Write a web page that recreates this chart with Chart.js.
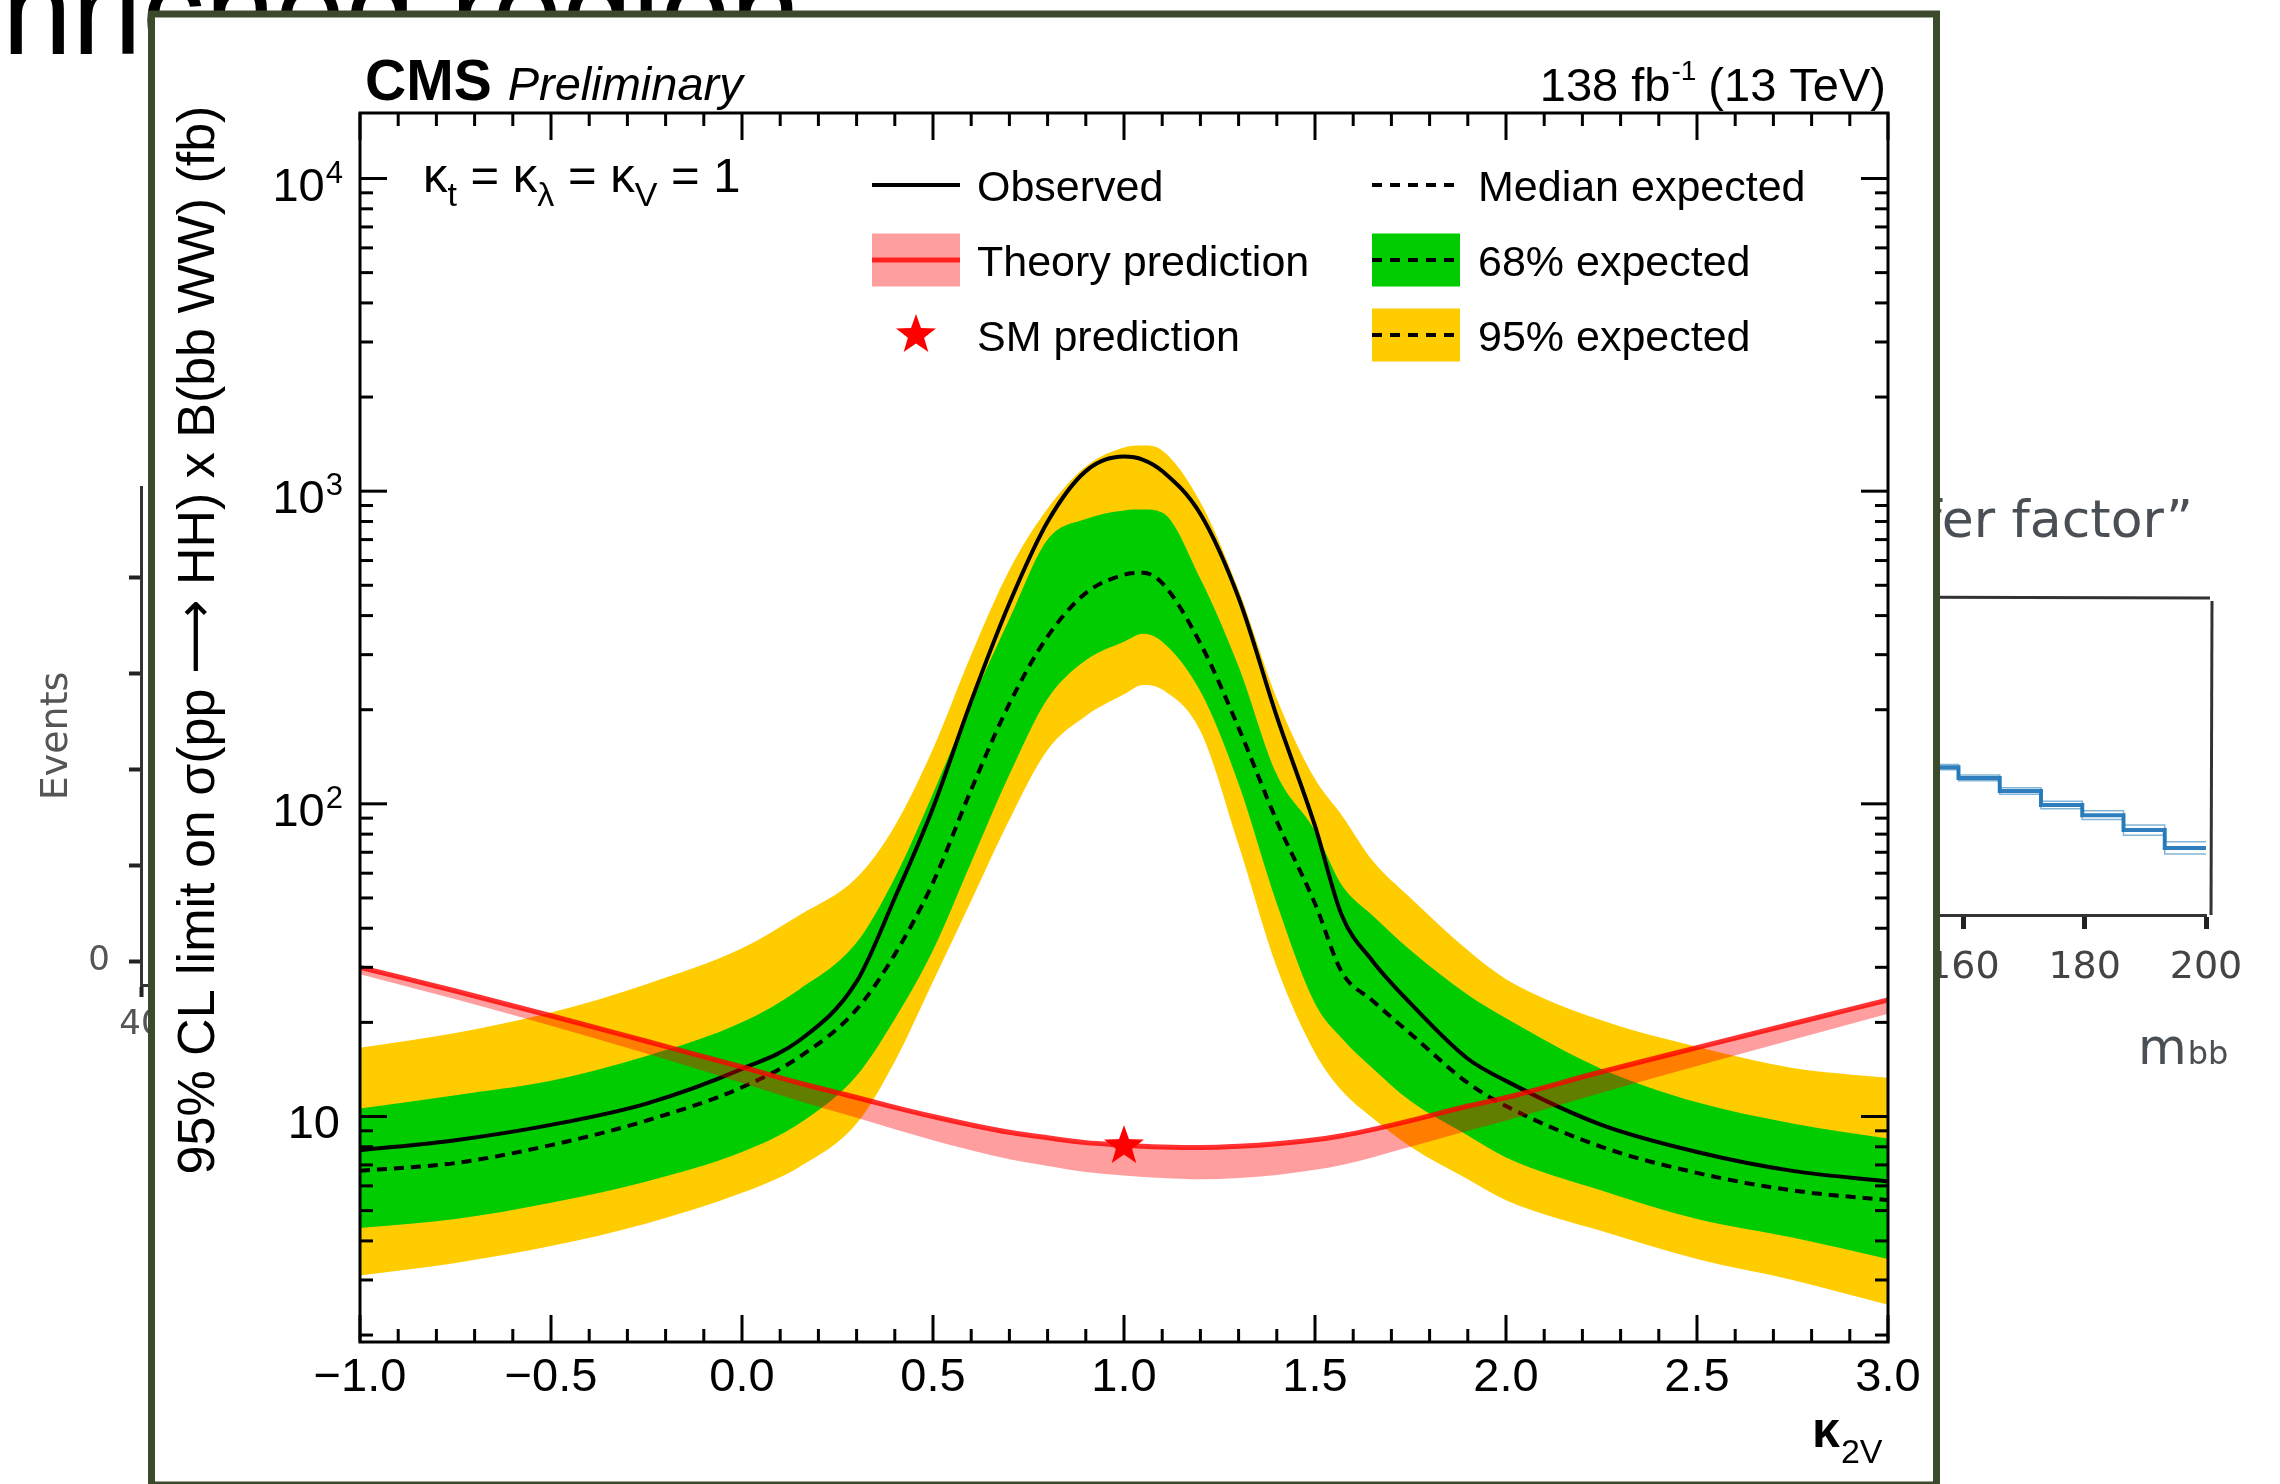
<!DOCTYPE html>
<html>
<head>
<meta charset="utf-8">
<script src="https://cdn.jsdelivr.net/npm/chart.js@4.4.1/dist/chart.umd.min.js"></script>
<style>
  body { margin: 0; background: #fff; }
  #page { position: relative; width: 2280px; height: 1484px; overflow: hidden; background: #fff; }
  #page canvas { position: absolute; left: 0; top: 0; }
</style>
</head>
<body>
<div id="page">
  <canvas id="eventsCanvas" width="2280" height="1484"></canvas>
  <canvas id="mbbCanvas" width="2280" height="1484"></canvas>
  <canvas id="limitCanvas" width="2280" height="1484"></canvas>
</div>
<script>
// kappa_2V scan points and the limits (fb) at each of them
let kappa2V   = [-1.0, -0.75, -0.5, -0.25, 0.0, 0.15, 0.3, 0.4, 0.5, 0.6, 0.7, 0.8, 0.9, 1.0, 1.05, 1.1, 1.2, 1.3, 1.4, 1.5, 1.57, 1.65, 1.75, 1.9, 2.0, 2.25, 2.5, 2.75, 3.0];
let observed  = [7.8, 8.4, 9.4, 11.0, 14.2, 17.5, 27, 50, 97, 213, 438, 798, 1159, 1290, 1260, 1160, 845, 456, 190, 85, 44, 31.5, 23, 15.3, 13.0, 9.4, 7.7, 6.7, 6.2];
let expMedian = [6.7, 7.1, 8.1, 9.7, 12.4, 15.5, 22, 33, 56, 111, 209, 343, 472, 540, 548, 508, 326, 175, 88, 48, 29, 23.5, 18.4, 12.8, 10.8, 8.0, 6.6, 5.8, 5.4];
let exp68Hi   = [10.6, 11.7, 13.0, 15.6, 20.0, 25.5, 36, 58, 108, 210, 390, 700, 815, 868, 873, 855, 525, 275, 124, 82, 55, 44, 34, 24.5, 20.6, 14.2, 11.1, 9.5, 8.5];
let exp68Lo   = [4.4, 4.7, 5.3, 6.2, 7.7, 9.5, 13.5, 20.5, 34, 65, 124, 217, 288, 330, 350, 330, 229, 116, 48, 23, 17.8, 14.3, 11.2, 8.7, 7.4, 5.8, 4.7, 4.1, 3.5];
let exp95Hi   = [16.6, 18.5, 21.5, 26.5, 34.5, 44, 58, 85, 150, 300, 560, 880, 1200, 1380, 1400, 1350, 922, 483, 217, 120, 92, 66, 50, 34, 27.5, 20.3, 16.7, 14.3, 13.3];
let exp95Lo   = [3.1, 3.4, 3.85, 4.55, 5.7, 6.9, 9.5, 15, 27, 49, 89, 149, 191, 224, 240, 232, 171, 74, 30, 16, 12.1, 9.9, 8.0, 6.3, 5.4, 4.3, 3.5, 3.0, 2.5];
let theory    = [30, 25.2, 21.0, 17.4, 14.4, 12.8, 11.5, 10.7, 10.0, 9.4, 8.9, 8.55, 8.25, 8.1, 8.03, 7.99, 7.96, 8.03, 8.18, 8.42, 8.68, 9.08, 9.7, 10.8, 11.5, 13.9, 16.6, 19.8, 23.6];
let theoryLo  = [28.5, 23.7, 19.5, 15.9, 12.8, 11.2, 9.9, 9.1, 8.4, 7.8, 7.3, 6.95, 6.65, 6.48, 6.41, 6.36, 6.3, 6.36, 6.5, 6.75, 7.0, 7.4, 8.0, 9.0, 9.7, 11.9, 14.5, 17.6, 21.3];
let smKappa   = [1.0];
let smXsec    = [8.1];

// axis tick labels
let xTickLabels = ['\u22121.0', '\u22120.5', '0.0', '0.5', '1.0', '1.5', '2.0', '2.5', '3.0'];
let yDecades = [1, 2, 3, 4];

// slide background: m_bb fragment (step histogram) and the Events axis
let mbbBinLow   = [152.4, 159.2, 166.0, 172.8, 179.6, 186.4, 193.2, 200.0];
let mbbRatio    = [46.5, 43.1, 39.0, 34.6, 31.4, 26.7, 21.1, 21.1];
let mbbRatioUp  = [47.3, 44.0, 40.0, 35.8, 32.8, 28.3, 23.0, 23.0];
let mbbRatioDn  = [45.7, 42.2, 38.0, 33.4, 30.0, 25.1, 19.2, 19.2];
let eventsTicks = [0, 1, 2, 3, 4];

let HELV = '"Liberation Sans", Arial, Helvetica, sans-serif';
let HAND = '"DejaVu Sans", sans-serif';

let toPoints = function (xs, ys) {
    return xs.map(function (x, i) { return { x: x, y: ys[i] }; });
};

function starPath(g, cx, cy, rOut, rIn) {
    g.beginPath();
    for (let i = 0; i < 10; i++) {
        let r = i % 2 === 0 ? rOut : rIn;
        let a = -Math.PI / 2 + i * Math.PI / 5;
        let px = cx + r * Math.cos(a), py = cy + r * Math.sin(a);
        if (i === 0) g.moveTo(px, py); else g.lineTo(px, py);
    }
    g.closePath();
}

let starImage = (function () {
    let c = document.createElement('canvas');
    c.width = 46; c.height = 46;
    let g = c.getContext('2d');
    g.fillStyle = '#ff0000';
    starPath(g, 23, 24, 21, 8.5);
    g.fill();
    return c;
})();

let put = function (ctx, text, x, y, font, align, color) {
    ctx.font = font;
    ctx.textAlign = align || 'left';
    ctx.textBaseline = 'alphabetic';
    ctx.fillStyle = color || '#000';
    ctx.fillText(text, x, y);
    return ctx.measureText(text).width;
};

let textWidth = function (ctx, text, font) {
    ctx.font = font;
    return ctx.measureText(text).width;
};

let seg = function (ctx, x1, y1, x2, y2) {
    ctx.beginPath();
    ctx.moveTo(x1, y1);
    ctx.lineTo(x2, y2);
    ctx.stroke();
};

// ---------- slide layer: title text and the Events axis ----------
let slidePlugin = {
    id: 'slideText',
    beforeDraw: function (chart) {
        let ctx = chart.ctx;
        ctx.save();
        put(ctx, 'nriched region', 2, 54, '126px ' + HELV, 'left', '#000');
        ctx.restore();
    }
};

new Chart(document.getElementById('eventsCanvas').getContext('2d'), {
    type: 'line',
    data: { datasets: [] },
    options: {
        responsive: false,
        animation: false,
        devicePixelRatio: 1,
        layout: { padding: { left: 22, top: 487, right: 1280, bottom: 439 } },
        scales: {
            x: {
                type: 'linear', min: 40, max: 200,
                afterFit: function (s) { s.height = 60; },
                ticks: { stepSize: 20, color: '#555', padding: 8, font: { size: 34, family: HAND } },
                grid: { drawOnChartArea: false, tickLength: 12, tickWidth: 4, color: '#222' },
                border: { color: '#333', width: 3 }
            },
            y: {
                type: 'linear', min: -0.25, max: 4.95,
                afterFit: function (s) { s.width = 119; },
                afterBuildTicks: function (s) { s.ticks = eventsTicks.map(function (v) { return { value: v }; }); },
                ticks: {
                    color: '#555', padding: 19, font: { size: 34, family: HAND },
                    callback: function (v) { return v === 0 ? '0' : ''; }
                },
                grid: { drawOnChartArea: false, tickLength: 12, tickWidth: 4, color: '#222' },
                border: { color: '#333', width: 3 },
                title: { display: true, text: 'Events', color: '#555', padding: { top: 12, bottom: 0 }, font: { size: 38, family: HAND } }
            }
        },
        plugins: { legend: { display: false }, tooltip: { enabled: false } }
    },
    plugins: [slidePlugin]
});

// ---------- slide layer: m_bb fragment ----------
let mbbFramePlugin = {
    id: 'mbbFrame',
    afterDraw: function (chart) {
        let ctx = chart.ctx, a = chart.chartArea;
        ctx.save();
        ctx.strokeStyle = '#333';
        ctx.lineWidth = 3;
        seg(ctx, a.left, a.top, a.right + 4, a.top + 1);
        seg(ctx, a.right + 6, a.top + 4, a.right + 5, a.bottom);
        put(ctx, '\u201ctransfer factor\u201d', 2193, 537, '52px ' + HAND, 'right', '#4a4f55');
        let w = put(ctx, 'm', 2138, 1064, '50px ' + HAND, 'left', '#4a4f55');
        put(ctx, 'bb', 2138 + w + 1, 1064, '32px ' + HAND, 'left', '#4a4f55');
        ctx.restore();
    }
};

new Chart(document.getElementById('mbbCanvas').getContext('2d'), {
    type: 'line',
    data: {
        datasets: [
            { data: toPoints(mbbBinLow, mbbRatioUp), stepped: true, borderColor: 'rgba(31,119,180,0.55)', borderWidth: 1.5, pointRadius: 0 },
            { data: toPoints(mbbBinLow, mbbRatioDn), stepped: true, borderColor: 'rgba(31,119,180,0.55)', borderWidth: 1.5, pointRadius: 0 },
            { data: toPoints(mbbBinLow, mbbRatio), stepped: true, borderColor: '#2f7fbf', borderWidth: 4, pointRadius: 0 }
        ]
    },
    options: {
        responsive: false,
        animation: false,
        devicePixelRatio: 1,
        layout: { padding: { left: 1842, top: 597, right: 74, bottom: 489 } },
        scales: {
            x: {
                type: 'linear', min: 140, max: 200,
                afterFit: function (s) { s.height = 80; },
                ticks: { stepSize: 20, color: '#444', padding: 16, font: { size: 38, family: HAND } },
                grid: { drawOnChartArea: false, tickLength: 14, tickWidth: 5, color: '#222' },
                border: { color: '#333', width: 3 }
            },
            y: { type: 'linear', min: 0, max: 100, display: false }
        },
        plugins: { legend: { display: false }, tooltip: { enabled: false } }
    },
    plugins: [mbbFramePlugin]
});

// ---------- the limit plot ----------
let pageFramePlugin = {
    id: 'pageFrame',
    beforeDraw: function (chart) {
        let ctx = chart.ctx;
        ctx.save();
        ctx.fillStyle = '#fff';
        ctx.fillRect(151.5, 14, 1785, 1471);
        ctx.strokeStyle = '#3c4a2c';
        ctx.lineWidth = 7;
        ctx.strokeRect(151.5, 14, 1785, 1471);
        ctx.restore();
    }
};

let rootAxesPlugin = {
    id: 'rootAxes',
    afterDraw: function (chart) {
        let ctx = chart.ctx, a = chart.chartArea;
        let xs = chart.scales.x, ys = chart.scales.y;
        ctx.save();
        ctx.strokeStyle = '#000';
        ctx.lineWidth = 3;
        ctx.lineCap = 'butt';

        // x ticks on bottom and top, pointing inward
        for (let i = -10; i <= 30; i++) {
            let px = xs.getPixelForValue(i / 10);
            let len = i % 5 === 0 ? 27 : 13;
            seg(ctx, px, a.bottom, px, a.bottom - len);
            seg(ctx, px, a.top, px, a.top + len);
        }
        // y ticks (log) on left and right
        for (let e = 0; e <= 4; e++) {
            for (let m = 1; m <= 9; m++) {
                let v = m * Math.pow(10, e);
                if (v < ys.min || v > ys.max) continue;
                let py = ys.getPixelForValue(v);
                let len = m === 1 ? 27 : 13;
                seg(ctx, a.left, py, a.left + len, py);
                seg(ctx, a.right, py, a.right - len, py);
            }
        }
        ctx.strokeRect(a.left, a.top, a.right - a.left, a.bottom - a.top);

        // tick labels
        xTickLabels.forEach(function (t, i) {
            put(ctx, t, xs.getPixelForValue(-1 + 0.5 * i), 1391, '47px ' + HELV, 'center');
        });
        yDecades.forEach(function (n) {
            let py = ys.getPixelForValue(Math.pow(10, n));
            if (n === 1) {
                put(ctx, '10', 340, py + 22, '47px ' + HELV, 'right');
            } else {
                let ws = textWidth(ctx, String(n), '31px ' + HELV);
                put(ctx, String(n), 343, py + 4, '31px ' + HELV, 'right');
                put(ctx, '10', 343 - ws - 1, py + 22, '47px ' + HELV, 'right');
            }
        });

        // y title, with a wider arrow glyph
        let tf = '52px ' + HELV, af = '52px ' + HAND;
        let ta = '95% CL limit on \u03c3(pp ', tb = '\u27f6', tc = ' HH) x B(bb WW) (fb)';
        let wa = textWidth(ctx, ta, tf), wb = textWidth(ctx, tb, af), wt = textWidth(ctx, tc, tf);
        ctx.save();
        ctx.translate(214, 640);
        ctx.rotate(-Math.PI / 2);
        let tx = -(wa + wb + wt) / 2;
        put(ctx, ta, tx, 0, tf, 'left');
        put(ctx, tb, tx + wa, -2, af, 'left');
        put(ctx, tc, tx + wa + wb, 0, tf, 'left');
        ctx.restore();

        // x title
        let wk = put(ctx, '\u03ba', 1812, 1447, 'bold 50px ' + HELV, 'left');
        put(ctx, '2V', 1812 + wk + 1, 1463, '34px ' + HELV, 'left');

        // CMS label and luminosity
        let wc = put(ctx, 'CMS', 365, 100, 'bold 57px ' + HELV, 'left');
        put(ctx, 'Preliminary', 365 + wc + 16, 100, 'italic 47px ' + HELV, 'left');
        let w1 = textWidth(ctx, '138 fb', '47px ' + HELV);
        let w3 = textWidth(ctx, ' (13 TeV)', '47px ' + HELV);
        let w2 = textWidth(ctx, '-1', '28px ' + HELV);
        let x0 = 1886 - w1 - w2 - w3;
        put(ctx, '138 fb', x0, 101, '47px ' + HELV, 'left');
        put(ctx, '-1', x0 + w1 + 1, 80, '28px ' + HELV, 'left');
        put(ctx, ' (13 TeV)', x0 + w1 + w2, 101, '47px ' + HELV, 'left');

        // coupling values
        let parts = [['\u03ba', 0], ['t', 1], [' = \u03ba', 0], ['\u03bb', 1], [' = \u03ba', 0], ['V', 1], [' = 1', 0]];
        let cx = 423;
        parts.forEach(function (p) {
            let sub = p[1] === 1;
            cx += put(ctx, p[0], cx, sub ? 206 : 192, (sub ? '34px ' : '49px ') + HELV, 'left');
        });

        // legend
        let rows = [185, 260, 335];
        let c1 = 872, c2 = 1372, bw = 88, bh = 53;
        ctx.lineWidth = 4;
        ctx.strokeStyle = '#000';
        seg(ctx, c1, rows[0], c1 + bw, rows[0]);
        ctx.fillStyle = 'rgba(255,0,0,0.38)';
        ctx.fillRect(c1, rows[1] - bh / 2, bw, bh);
        ctx.strokeStyle = 'rgba(255,0,0,0.8)';
        ctx.lineWidth = 5;
        seg(ctx, c1, rows[1], c1 + bw, rows[1]);
        ctx.drawImage(starImage, c1 + bw / 2 - 23, rows[2] - 24);
        ctx.fillStyle = '#00cc00';
        ctx.fillRect(c2, rows[1] - bh / 2, bw, bh);
        ctx.fillStyle = '#ffcc00';
        ctx.fillRect(c2, rows[2] - bh / 2, bw, bh);
        ctx.strokeStyle = '#000';
        ctx.lineWidth = 4;
        ctx.setLineDash([10, 8]);
        rows.forEach(function (r) { seg(ctx, c2, r, c2 + bw, r); });
        ctx.setLineDash([]);
        let lf = '43px ' + HELV;
        put(ctx, 'Observed', 977, rows[0] + 16, lf);
        put(ctx, 'Theory prediction', 977, rows[1] + 16, lf);
        put(ctx, 'SM prediction', 977, rows[2] + 16, lf);
        put(ctx, 'Median expected', 1478, rows[0] + 16, lf);
        put(ctx, '68% expected', 1478, rows[1] + 16, lf);
        put(ctx, '95% expected', 1478, rows[2] + 16, lf);
        ctx.restore();
    }
};

new Chart(document.getElementById('limitCanvas').getContext('2d'), {
    type: 'line',
    data: {
        datasets: [
            { label: '95% expected', data: toPoints(kappa2V, exp95Hi), fill: 1, backgroundColor: '#ffcc00', borderWidth: 0, order: 10 },
            { label: '95% low', data: toPoints(kappa2V, exp95Lo), fill: false, borderWidth: 0, order: 9 },
            { label: '68% expected', data: toPoints(kappa2V, exp68Hi), fill: 3, backgroundColor: '#00cc00', borderWidth: 0, order: 8 },
            { label: '68% low', data: toPoints(kappa2V, exp68Lo), fill: false, borderWidth: 0, order: 7 },
            { label: 'Median expected', data: toPoints(kappa2V, expMedian), borderColor: '#000', borderWidth: 4, borderDash: [10, 7], fill: false, order: 6 },
            { label: 'Observed', data: toPoints(kappa2V, observed), borderColor: '#000', borderWidth: 4, fill: false, order: 5 },
            { label: 'Theory low', data: toPoints(kappa2V, theoryLo), fill: 7, backgroundColor: 'rgba(255,0,0,0.38)', borderWidth: 0, order: 4 },
            { label: 'Theory prediction', data: toPoints(kappa2V, theory), borderColor: 'rgba(255,0,0,0.8)', borderWidth: 5, fill: false, order: 3 },
            { label: 'SM prediction', data: toPoints(smKappa, smXsec), showLine: false, pointStyle: starImage, pointRadius: 20, order: 1 }
        ]
    },
    options: {
        responsive: false,
        animation: false,
        devicePixelRatio: 1,
        layout: { padding: { left: 360, top: 113, right: 392, bottom: 142 } },
        elements: {
            point: { radius: 0 },
            line: { cubicInterpolationMode: 'monotone' }
        },
        scales: {
            x: { type: 'linear', min: -1, max: 3, display: false },
            y: { type: 'logarithmic', min: 1.9, max: 16200, display: false }
        },
        plugins: { legend: { display: false }, tooltip: { enabled: false } }
    },
    plugins: [pageFramePlugin, rootAxesPlugin]
});
</script>
</body>
</html>
